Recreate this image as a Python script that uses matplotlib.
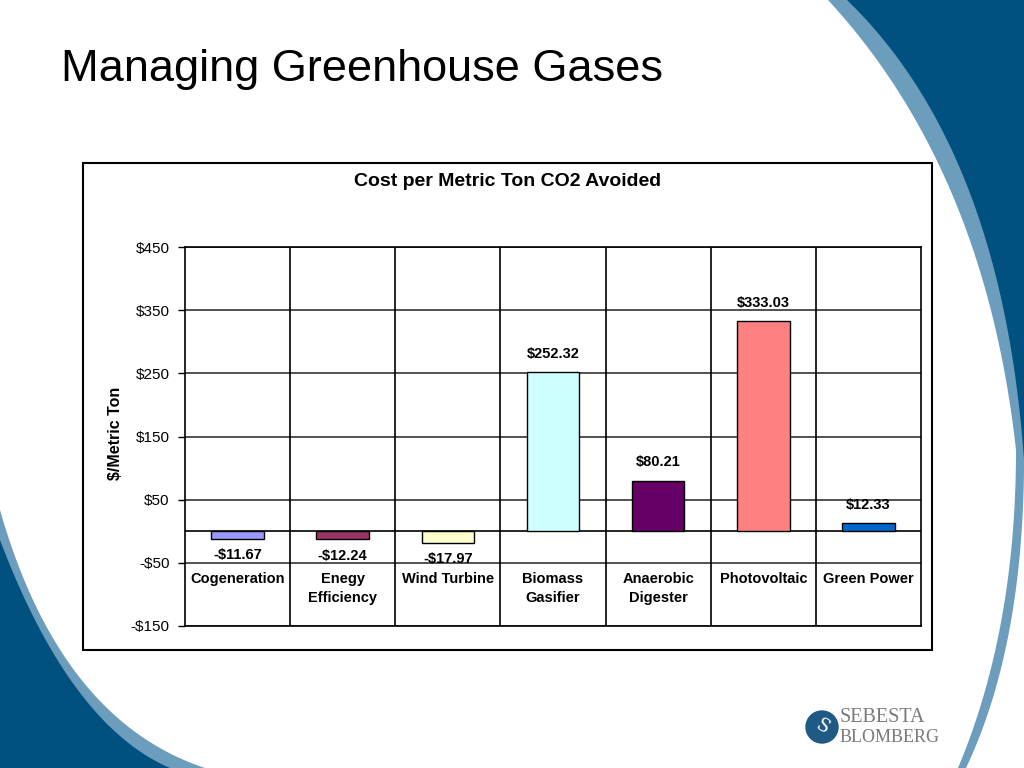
import numpy as np
import matplotlib.pyplot as plt
from matplotlib.patches import Polygon, Rectangle, Circle

plt.rcParams['font.family'] = ['Liberation Sans', 'DejaVu Sans']

# Datos
categorias = ['Cogeneration', 'Enegy\nEfficiency', 'Wind Turbine', 'Biomass\nGasifier',
              'Anaerobic\nDigester', 'Photovoltaic', 'Green Power']
costos = [-11.67, -12.24, -17.97, 252.32, 80.21, 333.03, 12.33]
etiquetas = ['-$11.67', '-$12.24', '-$17.97', '$252.32', '$80.21', '$333.03', '$12.33']
colores = ['#9999FF', '#993366', '#FFFFCC', '#CCFFFF', '#660066', '#FF8080', '#0066CC']
yticks = [-150, -50, 50, 150, 250, 350, 450]
ytick_labels = ['-$150', '-$50', '$50', '$150', '$250', '$350', '$450']

W, H = 1024, 768
fig = plt.figure(figsize=(W/100, H/100), dpi=100)
fig.patch.set_facecolor('white')

#%% Fondo de la diapositiva (curvas azules)
bg = fig.add_axes([0, 0, 1, 1])
bg.set_xlim(0, W)
bg.set_ylim(H, 0)
bg.axis('off')

def bezier(p0, p1, p2, n=80):
    t = np.linspace(0, 1, n)[:, None]
    return (1-t)**2*np.array(p0) + 2*(1-t)*t*np.array(p1) + t**2*np.array(p2)

azul = '#00517F'
celeste = '#6C9DBD'

# esquina superior derecha: hoja celeste que se afina hacia abajo
hoja_izq = np.vstack([bezier((828, 0), (985, 170), (1016, 450)),
                      bezier((1016, 450), (1016, 630), (958, 768))])
hoja_der = bezier((966, 768), (1022, 650), (1024, 470))
bg.add_patch(Polygon(np.vstack([hoja_izq, hoja_der, [[W, 0]]]), color=celeste, lw=0))
borde_osc = bezier((847, 0), (1002, 150), (1024, 460))
bg.add_patch(Polygon(np.vstack([borde_osc, [[W, 0]]]), color=azul, lw=0))

# esquina inferior izquierda
bl_claro = bezier((0, 510), (60, 720), (205, 768))
bl_osc = bezier((0, 540), (70, 725), (170, 768))
bg.add_patch(Polygon(np.vstack([bl_claro, [[0, H]]]), color=celeste, lw=0))
bg.add_patch(Polygon(np.vstack([bl_osc, [[0, H]]]), color=azul, lw=0))

# titulo de la diapositiva
bg.text(61, 70, 'Managing Greenhouse Gases', fontsize=32.5, va='center', ha='left', color='black')

# recuadro del grafico
bg.add_patch(Rectangle((83, 163), 849, 487, fill=True, facecolor='white', edgecolor='black', lw=1.5))
bg.text(508, 182, 'Cost per Metric Ton CO2 Avoided', fontsize=14, fontweight='bold',
        ha='center', va='center')
bg.text(116, 433, '$/Metric Ton', fontsize=11.5, fontweight='bold', rotation=90,
        ha='center', va='center')

# logo
bg.add_patch(Circle((822, 727), 16, color='#1F5A85'))
bg.text(822, 727, 'S', color='white', fontsize=13, ha='center', va='center',
        family='DejaVu Serif', rotation=-30)
bg.text(840, 718, 'SEBESTA', fontsize=14.5, family='Liberation Serif', color='#7A7A7A',
        ha='left', va='center')
bg.text(840, 737, 'BLOMBERG', fontsize=13, family='Liberation Serif', color='#7A7A7A',
        ha='left', va='center')

#%% Grafico de barras
ax = fig.add_axes([185/W, 1-626/H, 736/W, 379/H])
x = np.arange(len(categorias))

ax.set_axisbelow(True)
ax.bar(x, costos, width=0.5, color=colores, edgecolor='black', linewidth=1, zorder=3)

ax.set_xlim(-0.5, len(categorias)-0.5)
ax.set_ylim(-150, 450)
ax.set_yticks(yticks)
ax.set_yticklabels(ytick_labels, fontsize=11)
ax.set_xticks([])
ax.tick_params(axis='y', length=5, width=1, pad=6)

ax.yaxis.grid(True, color='#333333', lw=1.2)
ax.axhline(0, color='black', lw=1.2, zorder=2)
for xs in x[:-1] + 0.5:
    ax.axvline(xs, color='black', lw=1.2, zorder=2)
for s in ax.spines.values():
    s.set_linewidth(1.2)

# etiquetas de categoria dentro del area
for xi, cat in zip(x, categorias):
    ax.text(xi, -65, cat, ha='center', va='top', fontsize=10.5, fontweight='bold',
            linespacing=1.45)

# etiquetas de valores
for xi, v, lab in zip(x, costos, etiquetas):
    off = 8 if v > 0 else -7
    ax.annotate(lab, (xi, v), xytext=(0, off), textcoords='offset points',
                ha='center', va='bottom' if v > 0 else 'top',
                fontsize=10.5, fontweight='bold', zorder=4)

fig.savefig('out.png', dpi=100)
